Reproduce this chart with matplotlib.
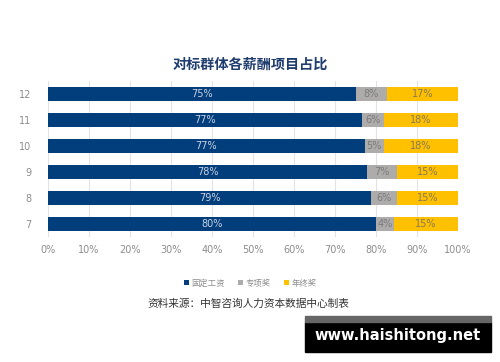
import matplotlib.pyplot as plt
import numpy as np

plt.rcParams["font.family"] = ["Noto Sans CJK SC", "DejaVu Sans"]

# rows from bottom to top
groups = ["7", "8", "9", "10", "11", "12"]
fixed = [80.0, 78.8, 77.8, 77.3, 76.6, 75.1]
special = [4.4, 6.3, 7.3, 4.6, 5.4, 7.6]
yearend = [15.6, 14.9, 14.9, 18.1, 18.0, 17.3]
fixed_lbl = ["80%", "79%", "78%", "77%", "77%", "75%"]
special_lbl = ["4%", "6%", "7%", "5%", "6%", "8%"]
yearend_lbl = ["15%", "15%", "15%", "18%", "18%", "17%"]
series_names = ["固定工资", "专项奖", "年终奖"]
colors = ["#033e7c", "#aeabab", "#ffc000"]
text_colors = ["#c9d3e3", "#7a7a7a", "#857a5a"]

fig = plt.figure(figsize=(5, 3.62), dpi=100)
ax = fig.add_axes([0.096, 0.345, 0.82, 0.431])

y = np.arange(len(groups))
left = np.zeros(len(groups))
for vals, lbls, name, c, tc in zip([fixed, special, yearend],
                                   [fixed_lbl, special_lbl, yearend_lbl],
                                   series_names, colors, text_colors):
    bars = ax.barh(y, vals, left=left, height=0.56, color=c, label=name, zorder=3)
    ax.bar_label(bars, labels=lbls, label_type="center", color=tc, fontsize=7,
                 family="DejaVu Sans")
    left = left + np.array(vals)

ax.set_xlim(0, 100)
ax.set_ylim(-0.5, len(groups) - 0.5)
ax.set_xticks(np.arange(0, 101, 10))
ax.set_xticklabels([f"{v}%" for v in range(0, 101, 10)])
ax.set_yticks(y)
ax.set_yticklabels(groups)
ax.tick_params(axis="both", length=0, colors="#8c8c8c", labelsize=7)
ax.tick_params(axis="x", pad=6)
ax.tick_params(axis="y", pad=12)
for lab in ax.get_xticklabels() + ax.get_yticklabels():
    lab.set_family("DejaVu Sans")
ax.grid(axis="x", color="#e3e3e3", linewidth=0.8, zorder=0)
for s in ax.spines.values():
    s.set_visible(False)

fig.text(0.5, 0.82, "对标群体各薪酬项目占比", ha="center", va="center",
         fontsize=10.2, fontweight="bold", color="#1f3c6e")

leg = fig.legend(loc="center", bbox_to_anchor=(0.5, 0.218), ncol=3, frameon=False,
                 fontsize=6, handlelength=0.6, handleheight=0.6, handletextpad=0.3,
                 columnspacing=1.6)
for t in leg.get_texts():
    t.set_color("#8c8c8c")

fig.text(0.295, 0.16, "资料来源：中智咨询人力资本数据中心制表", ha="left", va="center",
         fontsize=7.7, color="#333333")

# watermark box
fig.patches.append(plt.Rectangle((0.61, 0.028), 0.372, 0.082, transform=fig.transFigure,
                                 color="black", zorder=5))
fig.patches.append(plt.Rectangle((0.61, 0.11), 0.372, 0.018, transform=fig.transFigure,
                                 color="#666666", zorder=5))
fig.text(0.796, 0.072, "www.haishitong.net", ha="center", va="center", fontsize=10.5,
         fontweight="bold", color="white", family="DejaVu Sans", zorder=6)

fig.savefig("out.png", dpi=100, facecolor="white")
